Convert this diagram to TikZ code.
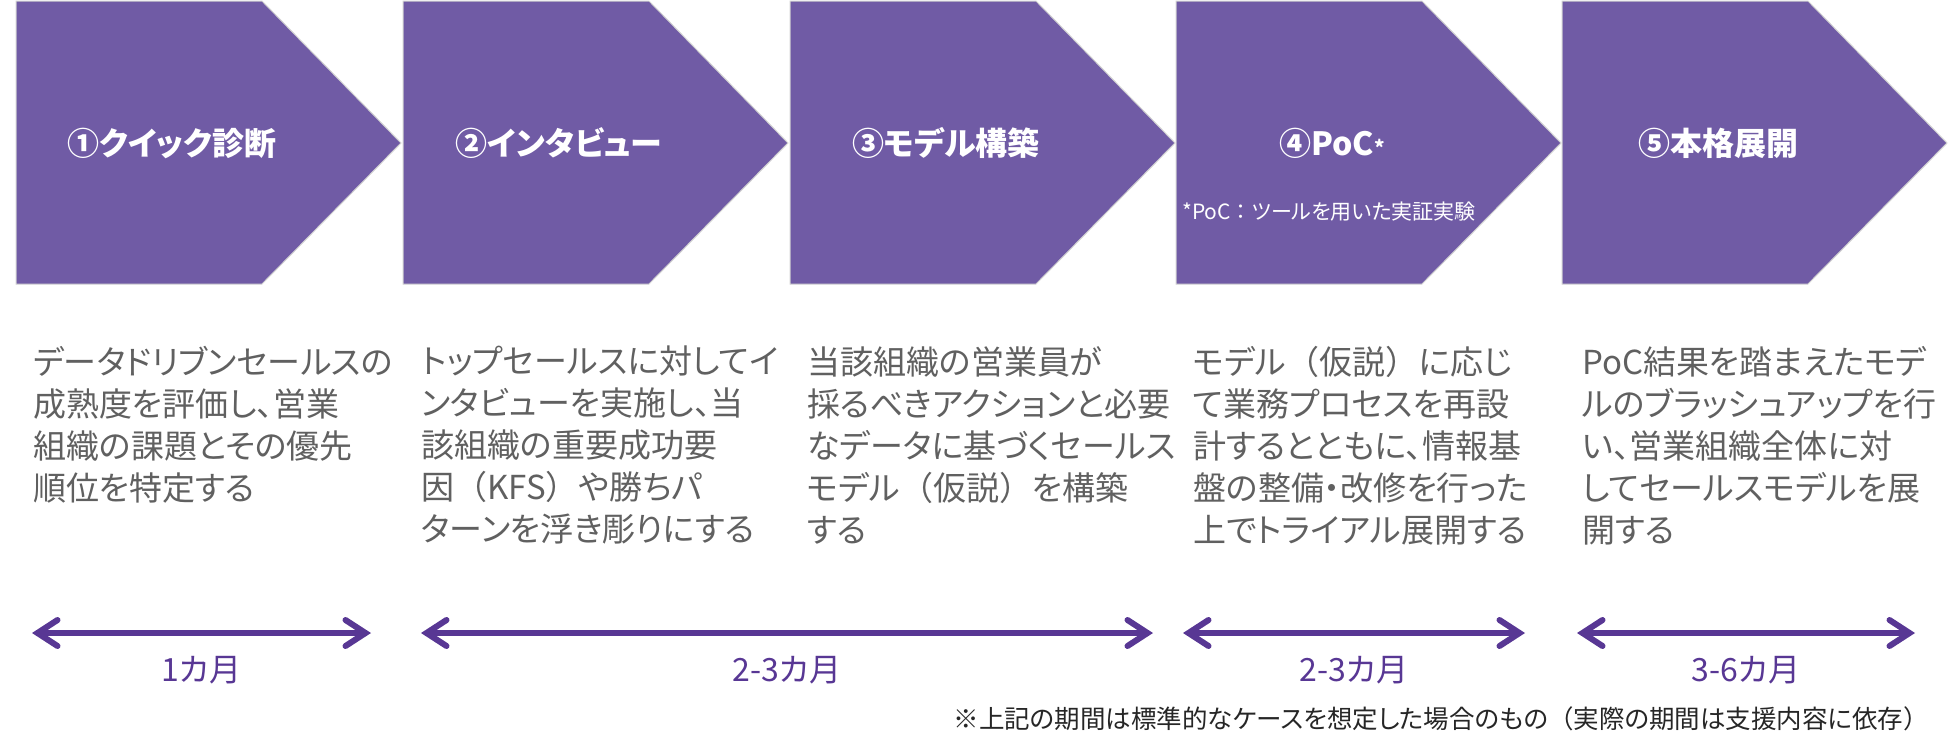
\documentclass[tikz,border=0pt]{standalone}
\usepackage{fontspec}
\setmainfont{Noto Sans CJK JP}[RawFeature=+palt]
\newfontfamily\jpfull{Noto Sans CJK JP}
\usetikzlibrary{arrows.meta}
\definecolor{phasefill}{RGB}{112,91,165}
\definecolor{spancol}{RGB}{88,55,148}
\definecolor{desctext}{RGB}{96,96,96}
% full-width brackets as in the original
\newcommand{\openparen}{{\jpfull （}}
\newcommand{\closeparen}{{\jpfull ）}}

\begin{document}
\begin{tikzpicture}[x=1pt,y=-1pt,
  phase/.style={fill=phasefill,draw=gray!35,line width=1pt},
  phasetitle/.style={text=white,inner sep=0pt,font=\bfseries\fontsize{32}{36}\selectfont},
  desc/.style={anchor=north west,align=left,inner sep=0pt,text=desctext,font=\fontsize{33}{42}\selectfont},
  span/.style={spancol,line width=6pt,
    {Straight Barb[length=20pt,width=26pt,line cap=round]}-{Straight Barb[length=20pt,width=26pt,line cap=round]}},
  spanlabel/.style={below=20pt,inner sep=0pt,text=spancol,font=\fontsize{32}{32}\selectfont}]
  \useasboundingbox (0,0) rectangle (1950,750);
  % the five phase chevrons
  \foreach \x in {16,403,790,1176,1562}
    \draw[phase] (\x,1) -- ++(246,0) -- ++(139,142) -- ++(-139,141) -- ++(-246,0) -- cycle;
  % phase titles
  \node[phasetitle] (t1) at (172,143) {①クイック診断};
  \node[phasetitle] (t2) at (559,143) {②インタビュー};
  \node[phasetitle] (t3) at (946,143) {③モデル構築};
  \node[phasetitle] (t4) at (1332,143) {④PoC{\fontsize{20}{20}\selectfont *}};
  \node[text=white,inner sep=0pt,font=\fontsize{21}{21}\selectfont] (t4note) at (1329,212) {*PoC{\jpfull ：}ツールを用いた実証実験};
  \node[phasetitle] (t5) at (1718,143) {⑤本格展開};
  % descriptions
  \node[desc] (x1) at (33,346) {データドリブンセールスの\\成熟度を評価し、営業\\組織の課題とその優先\\順位を特定する};
  \node[desc] (x2) at (421,346) {トップセールスに対してイ\\ンタビューを実施し、当\\該組織の重要成功要\\因\openparen KFS\closeparen や勝ちパ\\ターンを浮き彫りにする};
  \node[desc] (x3) at (807,346) {当該組織の営業員が\\採るべきアクションと必要\\なデータに基づくセールス\\モデル\openparen 仮説\closeparen を構築\\する};
  \node[desc] (x4) at (1193,346) {モデル\openparen 仮説\closeparen に応じ\\て業務プロセスを再設\\計するとともに、情報基\\盤の整備・改修を行った\\上でトライアル展開する};
  \node[desc] (x5) at (1582,346) {PoC結果を踏まえたモデ\\ルのブラッシュアップを行\\い、営業組織全体に対\\してセールスモデルを展\\開する};
  % durations
  \coordinate (s1a) at (32,633);
  \coordinate (s1b) at (371,633);
  \coordinate (s2a) at (421,633);
  \coordinate (s2b) at (1153,633);
  \coordinate (s3a) at (1183,633);
  \coordinate (s3b) at (1525,633);
  \coordinate (s4a) at (1577,633);
  \coordinate (s4b) at (1915,633);
  \draw[span] (s1a) -- (s1b) node[midway,spanlabel] (d1) {1カ月};
  \draw[span] (s2a) -- (s2b) node[midway,spanlabel] (d2) {2-3カ月};
  \draw[span] (s3a) -- (s3b) node[midway,spanlabel] (d3) {2-3カ月};
  \draw[span] (s4a) -- (s4b) node[midway,spanlabel] (d4) {3-6カ月};
  \node[anchor=east,inner sep=0pt,text=black!85,font=\fontsize{25.5}{25.5}\selectfont] (memo) at (1929,719) {※上記の期間は標準的なケースを想定した場合のもの\openparen 実際の期間は支援内容に依存\closeparen};
\end{tikzpicture}
\end{document}
